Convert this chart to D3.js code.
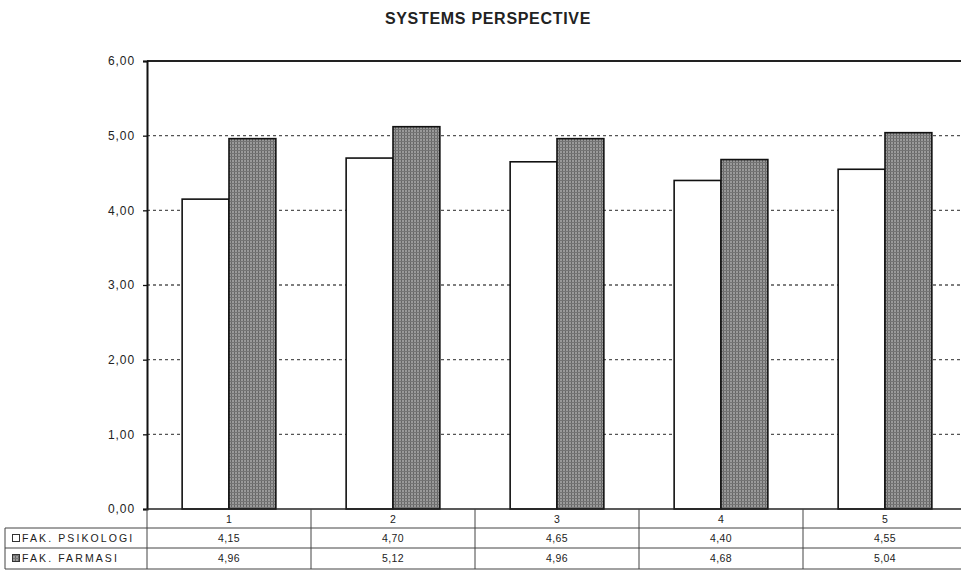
<!DOCTYPE html>
<html>
<head>
<meta charset="utf-8">
<script src="https://cdn.jsdelivr.net/npm/d3@7/dist/d3.min.js"></script>
<style>
  html, body { margin: 0; padding: 0; background: #fff; }
  svg { display: block; }
  text { font-family: "Liberation Sans", Arial, sans-serif; fill: #222; }
</style>
</head>
<body>
<svg id="chart" width="961" height="574"></svg>
<script>
// Mean scores per dimension, two faculties
const categories = ["1", "2", "3", "4", "5"];
const seriesNames = ["FAK. PSIKOLOGI", "FAK. FARMASI"];
const psikologi = [4.15, 4.70, 4.65, 4.40, 4.55];
const farmasi = [4.96, 5.12, 4.96, 4.68, 5.04];
const yTicks = [0, 1, 2, 3, 4, 5, 6];
const chartTitle = "SYSTEMS PERSPECTIVE";

const svg = d3.select("#chart");
const fmt = v => d3.format(".2f")(v).replace(".", ",");

const plot = { left: 147, right: 967, top: 61, bottom: 509 };

// Hatched grey fill for the second series
const defs = svg.append("defs");
const pat = defs.append("pattern")
  .attr("id", "hatch")
  .attr("patternUnits", "userSpaceOnUse")
  .attr("width", 3).attr("height", 3);
pat.append("rect").attr("width", 3).attr("height", 3).attr("fill", "#9a9a9a");
pat.append("rect").attr("width", 1).attr("height", 3).attr("fill", "#666");
pat.append("rect").attr("width", 3).attr("height", 1).attr("fill", "#747474");

const x = d3.scaleBand().domain(categories).range([plot.left, plot.right]).padding(0);
const xs = d3.scaleBand().domain(seriesNames).range([0, x.bandwidth()])
  .paddingInner(0).paddingOuter(0.75);
const y = d3.scaleLinear().domain([0, 6]).range([plot.bottom, plot.top]);

// Title
svg.append("text")
  .attr("x", 488).attr("y", 24)
  .attr("text-anchor", "middle")
  .style("font-size", "16px").style("font-weight", "bold")
  .style("letter-spacing", "0.7px")
  .text(chartTitle);

// Dotted gridlines
svg.append("g").selectAll("line")
  .data(yTicks.filter(t => t > 0 && t < 6))
  .join("line")
  .attr("x1", plot.left).attr("x2", plot.right)
  .attr("y1", d => y(d)).attr("y2", d => y(d))
  .attr("stroke", "#555").attr("stroke-width", 1.4)
  .attr("stroke-dasharray", "3,3");

// Top border of plot area
svg.append("line")
  .attr("x1", plot.left).attr("x2", plot.right)
  .attr("y1", y(6)).attr("y2", y(6))
  .attr("stroke", "#222").attr("stroke-width", 2);

// Bars
const rows = categories.map((c, i) => ({ c, vals: [psikologi[i], farmasi[i]] }));
const groups = svg.append("g").selectAll("g")
  .data(rows).join("g")
  .attr("transform", d => `translate(${x(d.c)},0)`);
groups.selectAll("rect")
  .data(d => d.vals.map((v, j) => ({ s: seriesNames[j], v })))
  .join("rect")
  .attr("x", d => xs(d.s))
  .attr("y", d => y(d.v))
  .attr("width", xs.bandwidth())
  .attr("height", d => y(0) - y(d.v))
  .attr("fill", d => d.s === seriesNames[0] ? "#fff" : "url(#hatch)")
  .attr("stroke", "#111").attr("stroke-width", 1.6);

// Y axis
const yAxis = svg.append("g")
  .attr("transform", `translate(${plot.left},0)`)
  .call(d3.axisLeft(y).tickValues(yTicks).tickFormat(fmt).tickSize(4).tickPadding(8));
yAxis.select(".domain").attr("stroke", "#111").attr("stroke-width", 2);
yAxis.selectAll(".tick line").attr("stroke", "#111").attr("stroke-width", 1.3);
yAxis.selectAll(".tick text")
  .style("font-size", "12px").style("letter-spacing", "0.9px")
  .attr("fill", "#222").attr("font-family", null);

// Baseline
svg.append("line")
  .attr("x1", plot.left).attr("x2", plot.right)
  .attr("y1", y(0)).attr("y2", y(0))
  .attr("stroke", "#222").attr("stroke-width", 1.6);

// Data table below the plot
const rowY = [509, 528, 548, 569];
const tbl = svg.append("g").attr("stroke", "#444").attr("stroke-width", 1);
// horizontal rules
tbl.append("line").attr("x1", plot.left).attr("x2", plot.right).attr("y1", rowY[1]).attr("y2", rowY[1]);
tbl.append("line").attr("x1", 5).attr("x2", plot.left).attr("y1", rowY[1]).attr("y2", rowY[1]);
tbl.append("line").attr("x1", 5).attr("x2", plot.right).attr("y1", rowY[2]).attr("y2", rowY[2]);
tbl.append("line").attr("x1", 5).attr("x2", plot.right).attr("y1", rowY[3]).attr("y2", rowY[3]);
// vertical rules
tbl.append("line").attr("x1", 5).attr("x2", 5).attr("y1", rowY[1]).attr("y2", rowY[3]);
tbl.selectAll("line.col")
  .data(categories.concat(["end"]))
  .join("line").attr("class", "col")
  .attr("x1", (d, i) => plot.left + i * x.bandwidth())
  .attr("x2", (d, i) => plot.left + i * x.bandwidth())
  .attr("y1", rowY[0]).attr("y2", rowY[3]);

// Category labels
svg.append("g").selectAll("text")
  .data(categories).join("text")
  .attr("x", d => x(d) + x.bandwidth() / 2)
  .attr("y", 523)
  .attr("text-anchor", "middle")
  .style("font-size", "10.5px")
  .text(d => d);

// Value rows
[psikologi, farmasi].forEach((vals, r) => {
  svg.append("g").selectAll("text")
    .data(vals).join("text")
    .attr("x", (d, i) => x(categories[i]) + x.bandwidth() / 2)
    .attr("y", rowY[r + 1] + 14)
    .attr("text-anchor", "middle")
    .style("font-size", "10.5px").style("letter-spacing", "0.4px")
    .text(d => fmt(d));
});

// Series legend in the table header column
seriesNames.forEach((name, r) => {
  const top = rowY[r + 1];
  svg.append("rect")
    .attr("x", 12.5).attr("y", top + 6.5)
    .attr("width", 7).attr("height", 7)
    .attr("fill", r === 0 ? "#fff" : "url(#hatch)")
    .attr("stroke", "#333").attr("stroke-width", 1);
  svg.append("text")
    .attr("x", 22).attr("y", top + 14)
    .style("font-size", "10.5px").style("letter-spacing", "2.1px")
    .text(name);
});
</script>
</body>
</html>
